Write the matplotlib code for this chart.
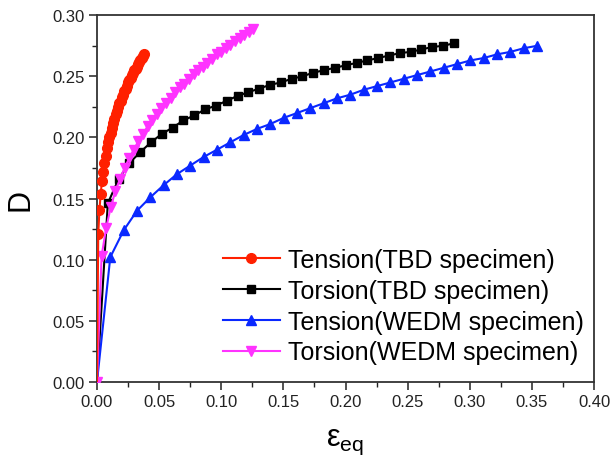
import matplotlib
matplotlib.use("Agg")
import matplotlib.pyplot as plt
from matplotlib.ticker import MultipleLocator

plt.rcParams['font.family'] = ['Liberation Sans', 'DejaVu Sans']
plt.rcParams['mathtext.fontset'] = 'custom'
plt.rcParams['mathtext.rm'] = 'Liberation Sans'

# Tension (TBD specimen)
x_ten_tbd = [0.0, 0.001, 0.002, 0.003, 0.004, 0.005, 0.006, 0.007, 0.008, 0.009, 0.010,
             0.011, 0.012, 0.013, 0.014, 0.015, 0.016, 0.017, 0.018, 0.019, 0.020,
             0.021, 0.022, 0.023, 0.024, 0.025, 0.026, 0.027, 0.028, 0.029, 0.030,
             0.031, 0.032, 0.033, 0.034, 0.035, 0.036, 0.037, 0.038]
d_ten_tbd = [0.0, 0.121, 0.141, 0.154, 0.164, 0.172, 0.179, 0.185, 0.191, 0.196, 0.200,
             0.204, 0.208, 0.212, 0.215, 0.219, 0.222, 0.225, 0.228, 0.230, 0.233,
             0.235, 0.238, 0.240, 0.242, 0.245, 0.247, 0.249, 0.251, 0.253, 0.255,
             0.256, 0.258, 0.260, 0.262, 0.263, 0.265, 0.267, 0.268]

# Torsion (TBD specimen)
x_tor_tbd = [0.0, 0.0087, 0.0174, 0.0261, 0.0348, 0.0435, 0.0522, 0.0609, 0.0696, 0.0783,
             0.0870, 0.0957, 0.1044, 0.1131, 0.1218, 0.1305, 0.1392, 0.1479, 0.1566,
             0.1653, 0.1740, 0.1827, 0.1914, 0.2001, 0.2088, 0.2175, 0.2262, 0.2349,
             0.2436, 0.2523, 0.2610, 0.2697, 0.2784, 0.2871]
d_tor_tbd = [0.0, 0.146, 0.166, 0.179, 0.188, 0.196, 0.203, 0.208, 0.214, 0.218,
             0.223, 0.226, 0.230, 0.234, 0.237, 0.240, 0.243, 0.245, 0.248,
             0.250, 0.253, 0.255, 0.257, 0.259, 0.261, 0.263, 0.265, 0.267,
             0.269, 0.270, 0.272, 0.274, 0.275, 0.277]

# Tension (WEDM specimen)
x_ten_wedm = [0.0, 0.0107, 0.0215, 0.0322, 0.0429, 0.0537, 0.0644, 0.0751, 0.0858, 0.0966,
              0.1073, 0.1180, 0.1288, 0.1395, 0.1502, 0.1610, 0.1717, 0.1824, 0.1931,
              0.2039, 0.2146, 0.2253, 0.2361, 0.2468, 0.2575, 0.2683, 0.2790, 0.2897,
              0.3004, 0.3112, 0.3219, 0.3326, 0.3434, 0.3541]
d_ten_wedm = [0.0, 0.102, 0.124, 0.140, 0.151, 0.161, 0.170, 0.177, 0.184, 0.190,
              0.196, 0.202, 0.207, 0.211, 0.216, 0.220, 0.224, 0.228, 0.232,
              0.235, 0.239, 0.242, 0.245, 0.248, 0.251, 0.254, 0.257, 0.260,
              0.263, 0.265, 0.268, 0.270, 0.273, 0.275]

# Torsion (WEDM specimen)
x_tor_wedm = [0.0, 0.0037, 0.0074, 0.0111, 0.0148, 0.0185, 0.0222, 0.0259, 0.0296, 0.0333,
              0.0370, 0.0407, 0.0444, 0.0481, 0.0518, 0.0555, 0.0592, 0.0629, 0.0666,
              0.0703, 0.0740, 0.0777, 0.0814, 0.0851, 0.0888, 0.0925, 0.0962, 0.0999,
              0.1036, 0.1073, 0.1110, 0.1147, 0.1184, 0.1221, 0.1258]
d_tor_wedm = [0.0, 0.103, 0.126, 0.143, 0.156, 0.166, 0.175, 0.183, 0.190, 0.197,
              0.203, 0.209, 0.214, 0.219, 0.224, 0.228, 0.232, 0.237, 0.241,
              0.244, 0.248, 0.252, 0.255, 0.258, 0.261, 0.264, 0.268, 0.270,
              0.273, 0.276, 0.279, 0.281, 0.284, 0.286, 0.289]

labels = ['Tension(TBD specimen)', 'Torsion(TBD specimen)',
          'Tension(WEDM specimen)', 'Torsion(WEDM specimen)']

fig = plt.figure(figsize=(6.1, 4.64), dpi=100)
ax = fig.add_axes([0.159, 0.175, 0.815, 0.79])

l1, = ax.plot(x_ten_tbd, d_ten_tbd, color='#ff2000', marker='o', ms=7, lw=1.5,
              markevery=range(1, len(x_ten_tbd)), zorder=5, label=labels[0])
l2, = ax.plot(x_tor_tbd, d_tor_tbd, color='black', marker='s', ms=5.5, lw=1.5,
              markevery=range(1, len(x_tor_tbd)), zorder=2, label=labels[1])
l3, = ax.plot(x_ten_wedm, d_ten_wedm, color='#0a28ff', marker='^', ms=7.5, lw=1.5,
              markevery=range(1, len(x_ten_wedm)), zorder=3, label=labels[2])
l4, = ax.plot(x_tor_wedm, d_tor_wedm, color='#ff33ff', marker='v', ms=7.5, lw=1.5,
              zorder=4, label=labels[3])

ax.set_xlim(0, 0.40)
ax.set_ylim(0, 0.30)
ax.xaxis.set_major_locator(MultipleLocator(0.05))
ax.xaxis.set_minor_locator(MultipleLocator(0.025))
ax.yaxis.set_major_locator(MultipleLocator(0.05))
ax.yaxis.set_minor_locator(MultipleLocator(0.025))
ax.xaxis.set_major_formatter(plt.FormatStrFormatter('%.2f'))
ax.yaxis.set_major_formatter(plt.FormatStrFormatter('%.2f'))
ax.tick_params(which='both', direction='out', top=False, right=False,
               labelsize=12, colors='#222222')
ax.tick_params(which='major', length=6, width=1.1, pad=3)
ax.tick_params(which='minor', length=3.5, width=1.0)
for s in ax.spines.values():
    s.set_color('#333333')
    s.set_linewidth(1.3)

ax.set_ylabel('D', fontsize=22, labelpad=12)
ax.set_xlabel('ε$_\\mathregular{eq}$', fontsize=22, labelpad=12)

ax.legend(handles=[l1, l2, l3, l4], loc='lower right', frameon=False,
          fontsize=18, handlelength=2.25, handletextpad=0.35, labelspacing=0.27,
          borderaxespad=0.0, bbox_to_anchor=(1.0, 0.02))

fig.savefig('out.png', dpi=100)
